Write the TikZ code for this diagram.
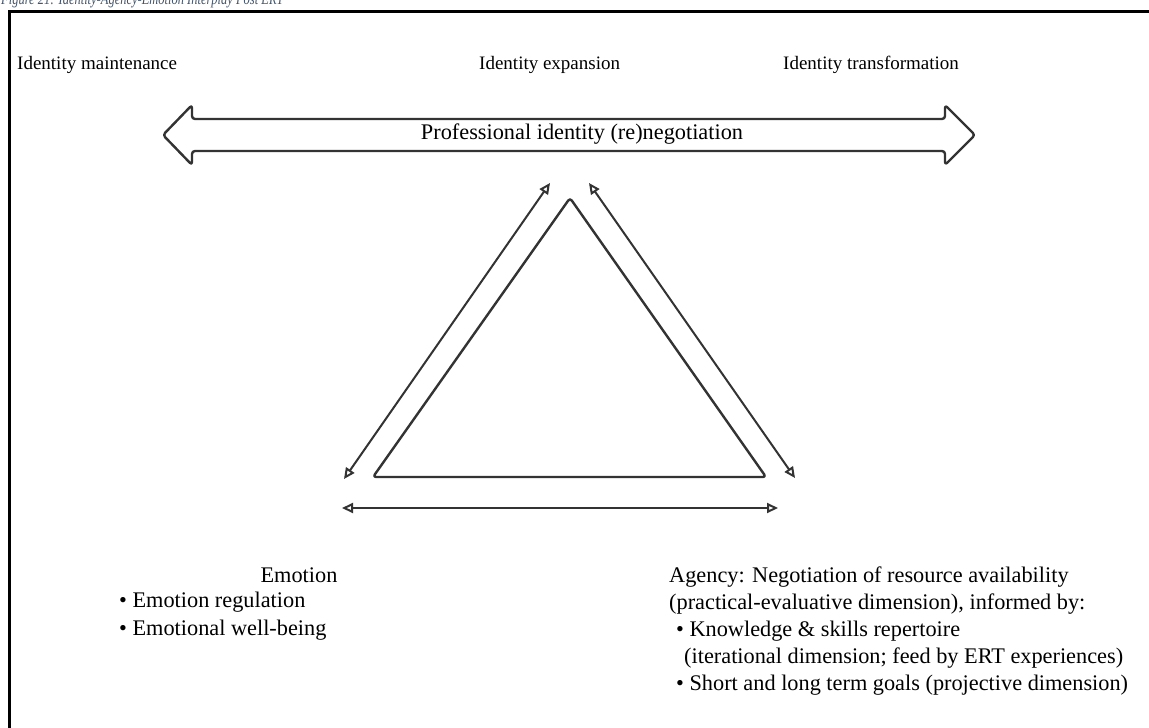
\documentclass[tikz,border=0pt]{standalone}
\usepackage{fontspec}
\usepackage{graphicx}
\setmainfont{Liberation Serif}
\usetikzlibrary{arrows.meta}
\definecolor{ink}{HTML}{333333}
\definecolor{capblue}{HTML}{44546A}
\begin{document}
\begin{tikzpicture}[x=1pt,y=-1pt,
  head/.style={inner sep=0pt, font=\fontsize{19}{27}\selectfont, text=black},
  txt/.style={inner sep=0pt, font=\fontsize{22.3}{27}\selectfont, text=black},
  shape line/.style={draw=ink, line width=2.4pt, line join=round, rounded corners=3pt},
  link/.style={draw=ink, line width=2pt,
    {Triangle[open,length=11pt,width=10pt,line width=2pt]}-{Triangle[open,length=11pt,width=10pt,line width=2pt]}}]
\useasboundingbox (0,0) rectangle (1149,728);
\clip (0,0) rectangle (1149,728);

% caption above the frame (its upper half lies outside the page)
\node[anchor=base west, inner sep=0pt, text=capblue,
  font=\fontsize{16}{18}\selectfont\itshape] (caption) at (1,5)
  {\scalebox{0.78}[1]{Figure 21: Identity-Agency-Emotion Interplay Post ERT}};

% frame
\draw[line width=3pt, black] (9.5,11.5) rectangle (1170,760);

% headings of the three outcomes
\node[head, anchor=west] (maint) at (17,65) {Identity maintenance};
\node[head, anchor=west] (expan) at (479,65) {Identity expansion};
\node[head, anchor=west] (trans) at (783,65) {Identity transformation};

% block double arrow
\draw[shape line] (163,135) -- (192,105) -- (192,119) -- (945,119) -- (945,105)
  -- (975,135) -- (945,165) -- (945,151) -- (192,151) -- (192,165) -- cycle;
\node[txt] (neg) at (582,134) {Professional identity (re)negotiation};

% central triangle
\draw[shape line] (570,198) -- (766,477) -- (373,477) -- cycle;

% end points of the two-way links
\coordinate (lt) at (550,183);
\coordinate (lb) at (344,479);
\coordinate (rt) at (589,183);
\coordinate (rb) at (795,478);
\coordinate (hl) at (342,508);
\coordinate (hr) at (778,508);
\draw[link] (lb) -- (lt);
\draw[link] (rt) -- (rb);
\draw[link] (hl) -- (hr);

% emotion block
\node[txt] (emo) at (299,575) {Emotion};
\node[txt, anchor=west] (emo1) at (119,602) {\textbullet\ Emotion regulation};
\node[txt, anchor=west] (emo2) at (119,630) {\textbullet\ Emotional well-being};

% agency block
\node[txt, anchor=west] (ag1) at (669,577) {Agency: Negotiation of resource availability};
\node[txt, anchor=west] (ag2) at (669,604) {(practical-evaluative dimension), informed by:};
\node[txt, anchor=west] (ag3) at (676,631) {\textbullet\ Knowledge \& skills repertoire};
\node[txt, anchor=west] (ag4) at (684,658) {(iterational dimension; feed by ERT experiences)};
\node[txt, anchor=west] (ag5) at (676,685) {\textbullet\ Short and long term goals (projective dimension)};
\end{tikzpicture}
\end{document}
